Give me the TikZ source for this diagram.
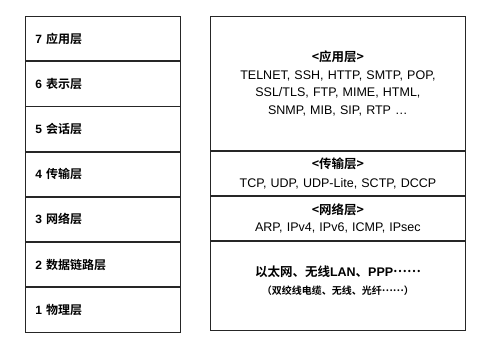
\documentclass[tikz,border=0pt]{standalone}
\usepackage{fontspec}
\setmainfont{Liberation Sans}
\newfontfamily\cjk{Noto Sans CJK SC}[BoldFont={* Bold}]
\newcommand\zh[1]{{\cjk\bfseries #1}}
\newcommand\puntos{\raisebox{0.3em}{\zh{……}}}

\tikzset{
	capa/.style={draw=black!85, line width=0.8pt, rectangle, minimum width=155pt, minimum height=44.4pt,
		text width=135pt, inner xsep=10pt, align=left, font=\fontsize{12}{14}\selectfont\bfseries, anchor=north west},
	proto/.style={draw=black!85, line width=0.8pt, rectangle, minimum width=255pt,
		text width=245pt, inner xsep=5pt, align=center, font=\fontsize{12.5}{17.5}\selectfont, anchor=north west},
}

\begin{document}
\begin{tikzpicture}[x=1pt, y=-1pt]
	\useasboundingbox (0,0) rectangle (487,347);
	% Modelo OSI
		\node[capa] (l7) at (25,16) {7 \zh{应用层}};
		\node[capa] (l6) at (l7.south west) {6 \zh{表示层}};
		\node[capa] (l5) at (l6.south west) {5 \zh{会话层}};
		\node[capa] (l4) at (l5.south west) {4 \zh{传输层}};
		\node[capa] (l3) at (l4.south west) {3 \zh{网络层}};
		\node[capa] (l2) at (l3.south west) {2 \zh{数据链路层}};
		\node[capa] (l1) at (l2.south west) {1 \zh{物理层}};
	% Protocolos
		\node[proto, minimum height=133.8pt] (app) at (210,16)
			{\zh{<应用层>}\\ TELNET, SSH, HTTP, SMTP, POP,\\ SSL/TLS, FTP, MIME, HTML,\\ SNMP, MIB, SIP, RTP \ldots};
		\node[proto, minimum height=44.4pt] (trans) at (app.south west)
			{\zh{<传输层>}\\[1pt] TCP, UDP, UDP-Lite, SCTP, DCCP};
		\node[proto, minimum height=44.4pt] (net) at (trans.south west)
			{\zh{<网络层>}\\ ARP, IPv4, IPv6, ICMP, IPsec};
		\node[proto, minimum height=88.8pt] (link) at (net.south west) {};
		\node[align=center, font=\fontsize{12.5}{17.5}\selectfont] (linktxt) at ([yshift=5pt]link.center)
			{\zh{以太网、无线}\textbf{LAN}\zh{、}\textbf{PPP}\puntos\\[1pt]
			 {\fontsize{10}{12}\selectfont\zh{（双绞线电缆、无线、光纤}\puntos\zh{）}}};
\end{tikzpicture}
\end{document}
